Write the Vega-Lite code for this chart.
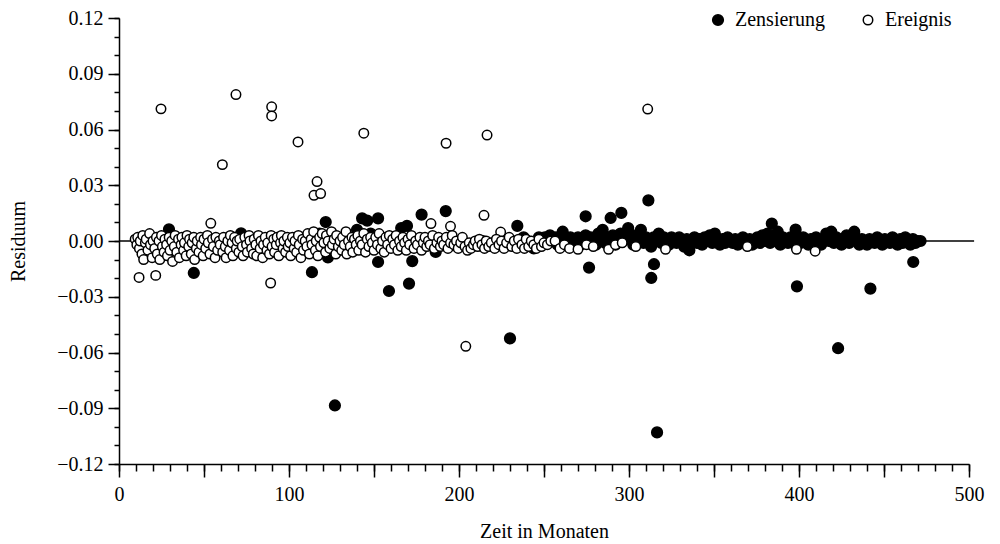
{
  "$schema": "https://vega.github.io/schema/vega-lite/v6.json",
  "autosize": {"type": "none"},
  "padding": {"left": 119, "top": 18, "right": 31, "bottom": 80},
  "width": 850,
  "height": 446,
  "background": "white",
  "config": {
    "view": {"stroke": null},
    "font": "Liberation Serif",
    "axis": {"labelFont": "Liberation Serif", "titleFont": "Liberation Serif"},
    "legend": {"labelFont": "Liberation Serif"},
    "style": {"guide-label": {"font": "Liberation Serif"}, "guide-title": {"font": "Liberation Serif"}}
  },
  "layer": [
    {
      "data": {"values": [{}]},
      "mark": {"type": "rule", "color": "black", "strokeWidth": 1.5},
      "encoding": {
        "x": {"datum": 0, "type": "quantitative", "scale": {"domain": [0, 500], "nice": false},
          "axis": {"orient": "bottom", "values": [0,10,20,30,40,50,60,70,80,90,100,110,120,130,140,150,160,170,180,190,200,210,220,230,240,250,260,270,280,290,300,310,320,330,340,350,360,370,380,390,400,410,420,430,440,450,460,470,480,490,500],
            "labels": false, "domain": false, "grid": false, "title": null, "tickSize": 7, "tickWidth": 1.5, "tickColor": "black"}},
        "x2": {"datum": 503},
        "y": {"datum": 0, "type": "quantitative", "scale": {"domain": [-0.12, 0.12], "nice": false, "zero": false},
          "axis": {"orient": "left", "values": [-0.12,-0.11,-0.1,-0.09,-0.08,-0.07,-0.06,-0.05,-0.04,-0.03,-0.02,-0.01,0,0.01,0.02,0.03,0.04,0.05,0.06,0.07,0.08,0.09,0.1,0.11,0.12],
            "labels": false, "domain": false, "grid": false, "title": null, "tickSize": 5, "tickWidth": 1.5, "tickColor": "black"}}
      }
    },
    {
      "data": {"values": [
        {"x":29.4,"y":0.0063,"t":"Z"},{"x":44,"y":-0.0172,"t":"Z"},{"x":71.8,"y":0.0041,"t":"Z"},{"x":121.6,"y":0.0102,"t":"Z"},
        {"x":122.9,"y":-0.0088,"t":"Z"},{"x":113.5,"y":-0.0168,"t":"Z"},{"x":127,"y":-0.0885,"t":"Z"},{"x":143,"y":0.0122,"t":"Z"},
        {"x":146,"y":0.011,"t":"Z"},{"x":152.4,"y":0.0122,"t":"Z"},{"x":152.4,"y":-0.0113,"t":"Z"},{"x":158.8,"y":-0.0269,"t":"Z"},
        {"x":169.4,"y":0.0081,"t":"Z"},{"x":178,"y":0.0142,"t":"Z"},{"x":192.2,"y":0.0161,"t":"Z"},{"x":234.3,"y":0.0081,"t":"Z"},
        {"x":172.5,"y":-0.0108,"t":"Z"},{"x":170.6,"y":-0.0229,"t":"Z"},{"x":186.3,"y":-0.0059,"t":"Z"},{"x":230,"y":-0.0524,"t":"Z"},
        {"x":274.5,"y":0.0133,"t":"Z"},{"x":289.2,"y":0.0124,"t":"Z"},{"x":295.5,"y":0.0151,"t":"Z"},{"x":311.4,"y":0.0219,"t":"Z"},
        {"x":276.5,"y":-0.0143,"t":"Z"},{"x":314.7,"y":-0.0125,"t":"Z"},{"x":313.1,"y":-0.0199,"t":"Z"},{"x":316.5,"y":-0.103,"t":"Z"},
        {"x":384,"y":0.0094,"t":"Z"},{"x":398,"y":0.0061,"t":"Z"},{"x":398.8,"y":-0.0244,"t":"Z"},{"x":423,"y":-0.0577,"t":"Z"},
        {"x":467.2,"y":-0.0113,"t":"Z"},{"x":442,"y":-0.0256,"t":"Z"},
        {"x":18,"y":-0.003,"t":"Z"},{"x":35,"y":-0.002,"t":"Z"},{"x":58,"y":-0.004,"t":"Z"},{"x":85,"y":-0.003,"t":"Z"},
        {"x":100,"y":-0.002,"t":"Z"},{"x":112,"y":0.002,"t":"Z"},{"x":118,"y":0.004,"t":"Z"},{"x":130,"y":-0.003,"t":"Z"},
        {"x":137,"y":0.001,"t":"Z"},{"x":140,"y":0.006,"t":"Z"},{"x":142,"y":0.0,"t":"Z"},{"x":145,"y":-0.003,"t":"Z"},
        {"x":148,"y":0.004,"t":"Z"},{"x":155,"y":-0.002,"t":"Z"},{"x":160,"y":0.002,"t":"Z"},{"x":166,"y":0.007,"t":"Z"},
        {"x":178,"y":-0.004,"t":"Z"},{"x":200,"y":-0.003,"t":"Z"},{"x":214,"y":0.0,"t":"Z"},{"x":225,"y":-0.002,"t":"Z"},
        {"x":238,"y":0.002,"t":"Z"},{"x":244,"y":-0.004,"t":"Z"},{"x":247,"y":0.002,"t":"Z"},
        {"x":250.5,"y":0.002,"t":"Z"},{"x":252,"y":-0.001,"t":"Z"},{"x":253.5,"y":0.003,"t":"Z"},{"x":255,"y":0.0,"t":"Z"},
        {"x":257,"y":0.002,"t":"Z"},{"x":258,"y":-0.002,"t":"Z"},{"x":259.5,"y":0.001,"t":"Z"},{"x":261,"y":0.005,"t":"Z"},
        {"x":262.5,"y":0.0,"t":"Z"},{"x":264,"y":-0.002,"t":"Z"},{"x":265.5,"y":0.002,"t":"Z"},{"x":267,"y":0.0,"t":"Z"},
        {"x":268.5,"y":-0.001,"t":"Z"},{"x":270,"y":0.002,"t":"Z"},{"x":271.5,"y":-0.002,"t":"Z"},{"x":273,"y":0.001,"t":"Z"},
        {"x":274.5,"y":0.003,"t":"Z"},{"x":276,"y":-0.001,"t":"Z"},{"x":277.5,"y":0.002,"t":"Z"},{"x":279,"y":0.0,"t":"Z"},
        {"x":280.5,"y":-0.002,"t":"Z"},{"x":282,"y":0.004,"t":"Z"},{"x":283,"y":0.001,"t":"Z"},{"x":284.5,"y":0.006,"t":"Z"},
        {"x":286,"y":-0.001,"t":"Z"},{"x":287.5,"y":0.002,"t":"Z"},{"x":289,"y":0.0,"t":"Z"},{"x":290.5,"y":0.003,"t":"Z"},
        {"x":292,"y":-0.002,"t":"Z"},{"x":293.5,"y":0.001,"t":"Z"},{"x":295,"y":0.004,"t":"Z"},{"x":296.5,"y":0.0,"t":"Z"},
        {"x":298,"y":0.002,"t":"Z"},{"x":299.5,"y":0.007,"t":"Z"},{"x":301,"y":0.001,"t":"Z"},{"x":302.5,"y":-0.002,"t":"Z"},
        {"x":304,"y":0.003,"t":"Z"},{"x":305.5,"y":0.0,"t":"Z"},{"x":307,"y":0.006,"t":"Z"},{"x":308.5,"y":-0.001,"t":"Z"},
        {"x":310,"y":0.002,"t":"Z"},{"x":311.5,"y":0.0,"t":"Z"},{"x":313,"y":-0.003,"t":"Z"},{"x":314.5,"y":0.002,"t":"Z"},
        {"x":316,"y":0.0,"t":"Z"},{"x":317.5,"y":0.004,"t":"Z"},{"x":319,"y":-0.001,"t":"Z"},{"x":320.5,"y":0.002,"t":"Z"},
        {"x":322,"y":0.0,"t":"Z"},{"x":323.5,"y":-0.002,"t":"Z"},{"x":325,"y":0.002,"t":"Z"},{"x":326.5,"y":0.0,"t":"Z"},
        {"x":328,"y":-0.001,"t":"Z"},{"x":329.5,"y":0.002,"t":"Z"},{"x":331,"y":0.0,"t":"Z"},{"x":332.5,"y":-0.003,"t":"Z"},
        {"x":334,"y":0.001,"t":"Z"},{"x":335.5,"y":-0.005,"t":"Z"},{"x":337,"y":0.0,"t":"Z"},{"x":338.5,"y":0.002,"t":"Z"},
        {"x":340,"y":-0.001,"t":"Z"},{"x":341.5,"y":0.001,"t":"Z"},{"x":343,"y":-0.002,"t":"Z"},{"x":344.5,"y":0.002,"t":"Z"},
        {"x":346,"y":0.0,"t":"Z"},{"x":347.5,"y":0.003,"t":"Z"},{"x":349,"y":-0.001,"t":"Z"},{"x":350.5,"y":0.004,"t":"Z"},
        {"x":352,"y":0.0,"t":"Z"},{"x":353.5,"y":-0.002,"t":"Z"},{"x":355,"y":0.001,"t":"Z"},{"x":356.5,"y":-0.001,"t":"Z"},
        {"x":358,"y":0.002,"t":"Z"},{"x":359.5,"y":0.0,"t":"Z"},{"x":361,"y":-0.001,"t":"Z"},{"x":362.5,"y":0.001,"t":"Z"},
        {"x":364,"y":-0.002,"t":"Z"},{"x":365.5,"y":0.0,"t":"Z"},{"x":367,"y":0.002,"t":"Z"},{"x":368.5,"y":-0.001,"t":"Z"},
        {"x":371,"y":0.001,"t":"Z"},{"x":372.5,"y":-0.002,"t":"Z"},{"x":374,"y":0.0,"t":"Z"},{"x":375.5,"y":0.002,"t":"Z"},
        {"x":377,"y":-0.001,"t":"Z"},{"x":378.5,"y":0.003,"t":"Z"},{"x":380,"y":0.0,"t":"Z"},{"x":381.5,"y":0.004,"t":"Z"},
        {"x":383,"y":-0.001,"t":"Z"},{"x":384.5,"y":0.002,"t":"Z"},{"x":386,"y":0.0,"t":"Z"},{"x":387.5,"y":0.005,"t":"Z"},
        {"x":389,"y":-0.002,"t":"Z"},{"x":390.5,"y":0.002,"t":"Z"},{"x":392,"y":0.0,"t":"Z"},{"x":393.5,"y":-0.001,"t":"Z"},
        {"x":395,"y":0.002,"t":"Z"},{"x":396.5,"y":0.0,"t":"Z"},{"x":398,"y":-0.002,"t":"Z"},{"x":399.5,"y":0.001,"t":"Z"},
        {"x":401,"y":-0.001,"t":"Z"},{"x":402.5,"y":0.002,"t":"Z"},{"x":404,"y":0.0,"t":"Z"},{"x":405.5,"y":-0.002,"t":"Z"},
        {"x":407,"y":0.001,"t":"Z"},{"x":408.5,"y":-0.001,"t":"Z"},{"x":410,"y":0.002,"t":"Z"},{"x":411.5,"y":0.0,"t":"Z"},
        {"x":413,"y":-0.002,"t":"Z"},{"x":414.5,"y":0.001,"t":"Z"},{"x":416,"y":0.004,"t":"Z"},{"x":417.5,"y":0.0,"t":"Z"},
        {"x":419,"y":0.005,"t":"Z"},{"x":420.5,"y":-0.001,"t":"Z"},{"x":422,"y":0.002,"t":"Z"},{"x":423.5,"y":0.0,"t":"Z"},
        {"x":425,"y":-0.002,"t":"Z"},{"x":426.5,"y":0.001,"t":"Z"},{"x":428,"y":0.003,"t":"Z"},{"x":429.5,"y":-0.001,"t":"Z"},
        {"x":431,"y":0.002,"t":"Z"},{"x":432.5,"y":0.005,"t":"Z"},{"x":434,"y":0.0,"t":"Z"},{"x":435.5,"y":-0.002,"t":"Z"},
        {"x":437,"y":0.001,"t":"Z"},{"x":438.5,"y":0.0,"t":"Z"},{"x":440,"y":-0.002,"t":"Z"},{"x":441.5,"y":0.001,"t":"Z"},
        {"x":443,"y":0.0,"t":"Z"},{"x":444.5,"y":-0.001,"t":"Z"},{"x":446,"y":0.002,"t":"Z"},{"x":447.5,"y":0.0,"t":"Z"},
        {"x":449,"y":-0.002,"t":"Z"},{"x":450.5,"y":0.001,"t":"Z"},{"x":452,"y":0.0,"t":"Z"},{"x":453.5,"y":-0.001,"t":"Z"},
        {"x":455,"y":0.002,"t":"Z"},{"x":456.5,"y":0.0,"t":"Z"},{"x":458,"y":-0.002,"t":"Z"},{"x":459.5,"y":0.001,"t":"Z"},
        {"x":461,"y":-0.001,"t":"Z"},{"x":462.5,"y":0.002,"t":"Z"},{"x":464,"y":0.0,"t":"Z"},{"x":465.5,"y":-0.002,"t":"Z"},
        {"x":467,"y":0.001,"t":"Z"},{"x":468.5,"y":-0.001,"t":"Z"},{"x":470,"y":0.0,"t":"Z"},{"x":471.5,"y":0.0,"t":"Z"},

        {"x":24.7,"y":0.0711,"t":"E"},{"x":60.8,"y":0.0411,"t":"E"},{"x":68.8,"y":0.0788,"t":"E"},{"x":89.8,"y":0.0722,"t":"E"},
        {"x":89.8,"y":0.0673,"t":"E"},{"x":105.3,"y":0.0533,"t":"E"},{"x":116.5,"y":0.032,"t":"E"},{"x":114.7,"y":0.0246,"t":"E"},
        {"x":118.6,"y":0.0255,"t":"E"},{"x":144,"y":0.058,"t":"E"},{"x":192.4,"y":0.0526,"t":"E"},{"x":216.5,"y":0.057,"t":"E"},
        {"x":204,"y":-0.0567,"t":"E"},{"x":214.7,"y":0.0138,"t":"E"},{"x":311,"y":0.071,"t":"E"},{"x":11.8,"y":-0.0196,"t":"E"},
        {"x":21.6,"y":-0.0185,"t":"E"},{"x":89.2,"y":-0.0226,"t":"E"},{"x":54,"y":0.0095,"t":"E"},{"x":183.5,"y":0.0094,"t":"E"},
        {"x":195,"y":0.0079,"t":"E"},{"x":224.5,"y":0.0048,"t":"E"},
        {"x":9.5,"y":0.001,"t":"E"},{"x":10.5,"y":-0.002,"t":"E"},{"x":11,"y":0.002,"t":"E"},{"x":12,"y":-0.004,"t":"E"},
        {"x":12.5,"y":0.0,"t":"E"},{"x":13.5,"y":-0.007,"t":"E"},{"x":14,"y":0.003,"t":"E"},{"x":14.5,"y":-0.01,"t":"E"},
        {"x":15.5,"y":-0.001,"t":"E"},{"x":16,"y":0.001,"t":"E"},{"x":17,"y":-0.005,"t":"E"},{"x":18,"y":0.004,"t":"E"},
        {"x":18.5,"y":-0.002,"t":"E"},{"x":19.5,"y":-0.009,"t":"E"},{"x":20,"y":0.0,"t":"E"},
        {"x":21,"y":-0.004,"t":"E"},{"x":22,"y":0.002,"t":"E"},{"x":22.5,"y":-0.007,"t":"E"},{"x":23.5,"y":0.0,"t":"E"},
        {"x":24,"y":-0.01,"t":"E"},{"x":25,"y":0.003,"t":"E"},{"x":25.5,"y":-0.003,"t":"E"},{"x":26.5,"y":-0.006,"t":"E"},
        {"x":27,"y":0.001,"t":"E"},{"x":28,"y":-0.002,"t":"E"},{"x":28.5,"y":-0.008,"t":"E"},{"x":29.5,"y":0.002,"t":"E"},
        {"x":30,"y":-0.005,"t":"E"},{"x":31,"y":0.0,"t":"E"},{"x":31.5,"y":-0.011,"t":"E"},{"x":32.5,"y":-0.003,"t":"E"},
        {"x":33,"y":0.003,"t":"E"},{"x":34,"y":-0.006,"t":"E"},{"x":35,"y":0.001,"t":"E"},{"x":35.5,"y":-0.009,"t":"E"},
        {"x":36.5,"y":-0.002,"t":"E"},{"x":37,"y":0.002,"t":"E"},{"x":38,"y":-0.005,"t":"E"},{"x":38.5,"y":-0.001,"t":"E"},
        {"x":39.5,"y":-0.008,"t":"E"},{"x":40,"y":0.003,"t":"E"},{"x":41,"y":-0.003,"t":"E"},{"x":41.5,"y":0.001,"t":"E"},
        {"x":42.5,"y":-0.007,"t":"E"},{"x":43,"y":-0.001,"t":"E"},{"x":44,"y":0.002,"t":"E"},{"x":44.5,"y":-0.01,"t":"E"},
        {"x":45.5,"y":-0.004,"t":"E"},{"x":46,"y":0.0,"t":"E"},{"x":47,"y":-0.006,"t":"E"},{"x":48,"y":0.002,"t":"E"},
        {"x":48.5,"y":-0.002,"t":"E"},{"x":49.5,"y":-0.008,"t":"E"},{"x":50,"y":0.001,"t":"E"},{"x":51,"y":-0.004,"t":"E"},
        {"x":52,"y":0.003,"t":"E"},{"x":52.5,"y":-0.001,"t":"E"},{"x":53.5,"y":-0.007,"t":"E"},{"x":55,"y":0.001,"t":"E"},
        {"x":55.5,"y":-0.003,"t":"E"},{"x":56.5,"y":-0.009,"t":"E"},{"x":57,"y":0.002,"t":"E"},{"x":58,"y":-0.005,"t":"E"},
        {"x":59,"y":0.0,"t":"E"},{"x":59.5,"y":-0.002,"t":"E"},{"x":61,"y":-0.006,"t":"E"},{"x":61.5,"y":0.002,"t":"E"},
        {"x":62.5,"y":-0.003,"t":"E"},{"x":63,"y":-0.009,"t":"E"},{"x":64,"y":0.0,"t":"E"},{"x":65,"y":-0.005,"t":"E"},
        {"x":65.5,"y":0.003,"t":"E"},{"x":66.5,"y":-0.001,"t":"E"},{"x":67,"y":-0.008,"t":"E"},{"x":68,"y":0.002,"t":"E"},
        {"x":69,"y":-0.004,"t":"E"},{"x":69.5,"y":0.0,"t":"E"},{"x":70.5,"y":-0.006,"t":"E"},{"x":71,"y":0.001,"t":"E"},
        {"x":72.5,"y":-0.003,"t":"E"},{"x":73,"y":-0.008,"t":"E"},{"x":74,"y":0.002,"t":"E"},{"x":75,"y":-0.002,"t":"E"},
        {"x":75.5,"y":-0.006,"t":"E"},{"x":76.5,"y":0.003,"t":"E"},{"x":77,"y":0.0,"t":"E"},{"x":78,"y":-0.004,"t":"E"},
        {"x":79,"y":-0.007,"t":"E"},{"x":79.5,"y":0.001,"t":"E"},{"x":80.5,"y":-0.002,"t":"E"},{"x":81,"y":-0.008,"t":"E"},
        {"x":82,"y":0.003,"t":"E"},{"x":83,"y":-0.004,"t":"E"},{"x":83.5,"y":0.0,"t":"E"},{"x":84.5,"y":-0.009,"t":"E"},
        {"x":85,"y":-0.002,"t":"E"},{"x":86,"y":0.002,"t":"E"},{"x":87,"y":-0.005,"t":"E"},{"x":87.5,"y":-0.001,"t":"E"},
        {"x":88.5,"y":-0.007,"t":"E"},{"x":89.5,"y":0.003,"t":"E"},{"x":90,"y":-0.003,"t":"E"},{"x":91,"y":0.001,"t":"E"},
        {"x":91.5,"y":-0.006,"t":"E"},{"x":92.5,"y":-0.002,"t":"E"},{"x":93,"y":0.002,"t":"E"},{"x":94,"y":-0.008,"t":"E"},
        {"x":95,"y":-0.001,"t":"E"},{"x":95.5,"y":0.003,"t":"E"},{"x":96.5,"y":-0.004,"t":"E"},{"x":97,"y":0.0,"t":"E"},
        {"x":98,"y":-0.006,"t":"E"},{"x":99,"y":0.002,"t":"E"},{"x":99.5,"y":-0.003,"t":"E"},{"x":100.5,"y":-0.001,"t":"E"},
        {"x":101,"y":-0.008,"t":"E"},{"x":102,"y":0.002,"t":"E"},{"x":103,"y":-0.004,"t":"E"},{"x":103.5,"y":0.0,"t":"E"},
        {"x":104.5,"y":-0.006,"t":"E"},{"x":105.5,"y":0.003,"t":"E"},{"x":106,"y":-0.002,"t":"E"},{"x":107,"y":-0.009,"t":"E"},
        {"x":108,"y":0.001,"t":"E"},{"x":108.5,"y":-0.005,"t":"E"},{"x":109.5,"y":0.0,"t":"E"},{"x":110.5,"y":-0.003,"t":"E"},
        {"x":111,"y":0.004,"t":"E"},{"x":112,"y":-0.007,"t":"E"},{"x":113,"y":0.001,"t":"E"},{"x":113.5,"y":-0.002,"t":"E"},
        {"x":114.5,"y":0.005,"t":"E"},{"x":115.5,"y":-0.005,"t":"E"},{"x":116,"y":0.0,"t":"E"},{"x":117,"y":-0.008,"t":"E"},
        {"x":118,"y":0.002,"t":"E"},{"x":118.5,"y":-0.003,"t":"E"},{"x":119.5,"y":0.004,"t":"E"},{"x":120.5,"y":-0.001,"t":"E"},
        {"x":121.5,"y":-0.006,"t":"E"},{"x":122,"y":0.003,"t":"E"},{"x":123,"y":0.0,"t":"E"},{"x":124,"y":-0.004,"t":"E"},
        {"x":125,"y":0.005,"t":"E"},{"x":125.5,"y":-0.002,"t":"E"},{"x":126.5,"y":0.001,"t":"E"},{"x":127.5,"y":-0.007,"t":"E"},
        {"x":128,"y":0.003,"t":"E"},{"x":129,"y":-0.003,"t":"E"},{"x":130,"y":0.0,"t":"E"},{"x":131,"y":-0.005,"t":"E"},
        {"x":131.5,"y":0.002,"t":"E"},{"x":132.5,"y":-0.002,"t":"E"},{"x":133.5,"y":0.005,"t":"E"},{"x":134,"y":-0.007,"t":"E"},
        {"x":135,"y":0.0,"t":"E"},{"x":136,"y":-0.003,"t":"E"},{"x":137,"y":0.002,"t":"E"},{"x":137.5,"y":-0.006,"t":"E"},
        {"x":138.5,"y":0.001,"t":"E"},{"x":139.5,"y":-0.002,"t":"E"},{"x":140.5,"y":0.003,"t":"E"},{"x":141,"y":-0.005,"t":"E"},
        {"x":142,"y":0.0,"t":"E"},{"x":143,"y":-0.002,"t":"E"},{"x":144,"y":0.004,"t":"E"},{"x":145,"y":-0.006,"t":"E"},
        {"x":146,"y":0.001,"t":"E"},{"x":147,"y":-0.003,"t":"E"},{"x":148,"y":0.002,"t":"E"},{"x":149,"y":-0.001,"t":"E"},
        {"x":150,"y":-0.005,"t":"E"},{"x":151,"y":0.002,"t":"E"},{"x":152,"y":-0.002,"t":"E"},{"x":153,"y":0.004,"t":"E"},
        {"x":154,"y":-0.004,"t":"E"},{"x":155,"y":0.0,"t":"E"},{"x":156,"y":-0.006,"t":"E"},{"x":157,"y":0.002,"t":"E"},
        {"x":158,"y":-0.002,"t":"E"},{"x":159,"y":0.003,"t":"E"},{"x":160,"y":-0.004,"t":"E"},{"x":161,"y":0.001,"t":"E"},
        {"x":162,"y":-0.002,"t":"E"},{"x":163,"y":0.003,"t":"E"},{"x":164,"y":-0.005,"t":"E"},{"x":165,"y":0.0,"t":"E"},
        {"x":166,"y":-0.003,"t":"E"},{"x":167,"y":0.002,"t":"E"},{"x":168,"y":-0.001,"t":"E"},{"x":169,"y":-0.005,"t":"E"},
        {"x":170,"y":0.001,"t":"E"},{"x":171,"y":-0.002,"t":"E"},{"x":172,"y":0.003,"t":"E"},{"x":173.5,"y":-0.004,"t":"E"},
        {"x":174.5,"y":0.0,"t":"E"},{"x":175.5,"y":-0.002,"t":"E"},{"x":177,"y":0.002,"t":"E"},{"x":178,"y":-0.005,"t":"E"},
        {"x":179,"y":-0.001,"t":"E"},{"x":180,"y":0.002,"t":"E"},{"x":181,"y":-0.003,"t":"E"},{"x":182,"y":0.0,"t":"E"},
        {"x":183,"y":-0.002,"t":"E"},{"x":184.5,"y":0.003,"t":"E"},{"x":185.5,"y":-0.004,"t":"E"},{"x":187,"y":-0.001,"t":"E"},
        {"x":188,"y":0.002,"t":"E"},{"x":189,"y":-0.003,"t":"E"},{"x":190,"y":0.0,"t":"E"},{"x":191,"y":-0.002,"t":"E"},
        {"x":192.5,"y":0.002,"t":"E"},{"x":193.5,"y":-0.004,"t":"E"},{"x":195,"y":-0.001,"t":"E"},{"x":196,"y":0.003,"t":"E"},
        {"x":197,"y":-0.002,"t":"E"},{"x":198.5,"y":0.0,"t":"E"},{"x":199.5,"y":-0.004,"t":"E"},{"x":201,"y":-0.001,"t":"E"},
        {"x":202,"y":0.002,"t":"E"},{"x":203.5,"y":-0.003,"t":"E"},{"x":205,"y":-0.005,"t":"E"},{"x":206,"y":-0.001,"t":"E"},
        {"x":207,"y":-0.004,"t":"E"},{"x":208.5,"y":-0.002,"t":"E"},{"x":209.5,"y":0.0,"t":"E"},{"x":211,"y":-0.003,"t":"E"},
        {"x":212,"y":0.001,"t":"E"},{"x":213.5,"y":-0.002,"t":"E"},{"x":215,"y":-0.004,"t":"E"},{"x":216,"y":0.0,"t":"E"},
        {"x":217.5,"y":-0.003,"t":"E"},{"x":219,"y":-0.001,"t":"E"},{"x":221,"y":-0.004,"t":"E"},{"x":222,"y":0.001,"t":"E"},
        {"x":223.5,"y":-0.002,"t":"E"},{"x":225,"y":0.0,"t":"E"},{"x":226.5,"y":-0.004,"t":"E"},{"x":228,"y":-0.001,"t":"E"},
        {"x":229.5,"y":0.002,"t":"E"},{"x":231,"y":-0.003,"t":"E"},{"x":232.5,"y":0.0,"t":"E"},{"x":234,"y":-0.004,"t":"E"},
        {"x":235,"y":0.001,"t":"E"},{"x":237,"y":-0.002,"t":"E"},{"x":238.5,"y":-0.004,"t":"E"},{"x":239.5,"y":0.001,"t":"E"},
        {"x":241,"y":-0.003,"t":"E"},{"x":242.5,"y":0.0,"t":"E"},{"x":244,"y":-0.002,"t":"E"},{"x":245.5,"y":-0.004,"t":"E"},
        {"x":247,"y":0.001,"t":"E"},{"x":248.5,"y":-0.003,"t":"E"},{"x":250,"y":-0.001,"t":"E"},
        {"x":252,"y":-0.002,"t":"E"},{"x":254,"y":0.0,"t":"E"},{"x":256.5,"y":0.0,"t":"E"},{"x":259.4,"y":-0.004,"t":"E"},
        {"x":262,"y":-0.002,"t":"E"},{"x":265,"y":-0.004,"t":"E"},{"x":270,"y":-0.0045,"t":"E"},{"x":275,"y":-0.002,"t":"E"},
        {"x":279,"y":-0.003,"t":"E"},{"x":288,"y":-0.0045,"t":"E"},{"x":292,"y":-0.002,"t":"E"},{"x":296,"y":-0.001,"t":"E"},
        {"x":304,"y":-0.003,"t":"E"},{"x":321.5,"y":-0.0045,"t":"E"},{"x":369.6,"y":-0.003,"t":"E"},{"x":398.5,"y":-0.0045,"t":"E"},
        {"x":409.5,"y":-0.0055,"t":"E"}
      ]},
      "mark": {"type": "circle", "stroke": "black", "strokeWidth": 1.5, "opacity": 1},
      "encoding": {
        "x": {"field": "x", "type": "quantitative",
          "axis": {"orient": "bottom", "values": [0,50,100,150,200,250,300,350,400,450,500],
            "labelExpr": "datum.value % 100 === 0 ? datum.label : ''", "format": "d",
            "labelFlush": false, "labelOverlap": false, "grid": false,
            "tickSize": 13, "tickWidth": 1.5, "tickColor": "black", "domainColor": "black", "domainWidth": 1.5,
            "labelFont": "Liberation Serif", "labelFontSize": 20, "labelColor": "black", "labelPadding": 7,
            "title": "Zeit in Monaten", "titleFont": "Liberation Serif", "titleFontSize": 20, "titleFontWeight": "normal",
            "titleColor": "black", "titlePadding": 17}},
        "y": {"field": "y", "type": "quantitative",
          "axis": {"orient": "left", "values": [-0.12,-0.09,-0.06,-0.03,0,0.03,0.06,0.09,0.12],
            "format": ".2f", "labelFlush": false, "labelOverlap": false, "grid": false,
            "tickSize": 11, "tickWidth": 1.5, "tickColor": "black", "domainColor": "black", "domainWidth": 1.5,
            "labelFont": "Liberation Serif", "labelFontSize": 20, "labelColor": "black", "labelPadding": 5,
            "title": "Residuum", "titleFont": "Liberation Serif", "titleFontSize": 20, "titleFontWeight": "normal",
            "titleColor": "black", "titlePadding": 28}},
        "fill": {"field": "t", "type": "nominal",
          "scale": {"domain": ["Z", "E"], "range": ["black", "white"]},
          "legend": {"title": null, "orient": "none", "legendX": 589, "legendY": -8, "direction": "horizontal",
            "labelExpr": "datum.label == 'Z' ? 'Zensierung' : 'Ereignis'",
            "labelFont": "Liberation Serif", "labelFontSize": 20, "labelColor": "black", "labelOffset": 7,
            "columnPadding": 33, "symbolType": "circle", "symbolStrokeColor": "black", "symbolStrokeWidth": 1.5}},
        "size": {"field": "t", "type": "nominal",
          "scale": {"type": "ordinal", "domain": ["Z", "E"], "range": [115, 90]}}
      }
    }
  ],
  "resolve": {"axis": {"x": "independent", "y": "independent"}}
}
